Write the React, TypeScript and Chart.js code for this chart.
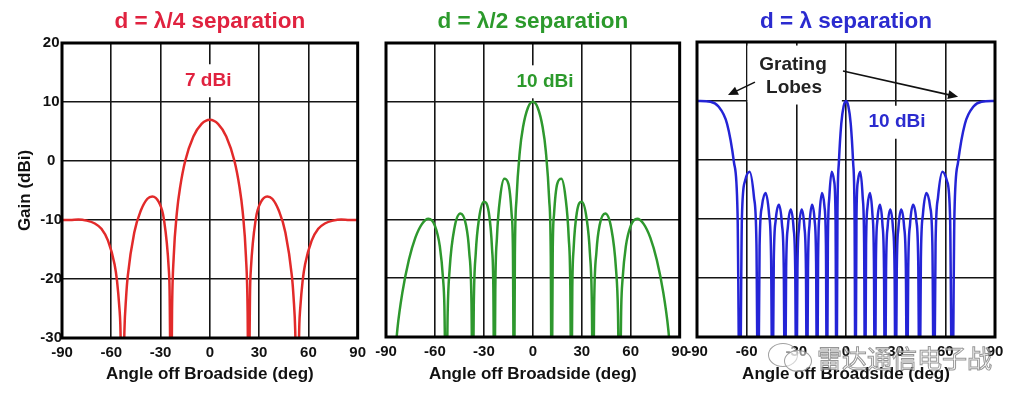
import React, { useEffect, useRef } from "react";
import { Chart, registerables } from "chart.js";

Chart.register(...registerables);

const FONT = '"Liberation Sans", Arial, Helvetica, sans-serif';

// ---- axis ticks ----
const xTickValues = [-90, -60, -30, 0, 30, 60, 90];
const yTickValues = [-30, -20, -10, 0, 10, 20];

// ---- d = λ/4 separation ----
const angles1 = [
  -90, -85, -80, -75, -70, -66, -62, -58, -56.5, -55, -54.5, -53.1, -52, -51, -50, -46, -42, -38, -35, -31,
  -28, -25, -24.5, -23.6, -23, -22, -20, -18, -15, -10, -5,
  0,
  5, 10, 15, 18, 20, 22, 23, 23.6, 24.5, 25, 28, 31, 35, 38, 42, 46, 50, 51, 52, 53.1, 54.5, 55, 56.5, 58,
  62, 66, 70, 75, 80, 85, 90,
];
const gain1 = [
  -10, -10, -9.9, -10.1, -10.6, -11.5, -13.5, -17.5, -20.3, -25.1, -27.6, -45, -28.8, -23.2, -19.6, -12.1, -8.4, -6.4, -6.0, -7.0,
  -9.8, -18.3, -21.9, -45, -25.4, -16.3, -8.6, -4.3, 0, 4.15, 6.3,
  7,
  6.3, 4.15, 0, -4.3, -8.6, -16.3, -25.4, -45, -21.9, -18.3, -9.8, -7.0, -6.0, -6.4, -8.4, -12.1, -19.6, -23.2, -28.8, -45, -27.6, -25.1, -20.3, -17.5,
  -13.5, -11.5, -10.6, -10.1, -9.9, -10, -10,
];

// ---- d = λ/2 separation ----
const angles2 = [
  -90, -86, -83, -80, -76, -72, -68, -64, -60, -57, -55, -54.2, -53.13, -52.2, -51, -48, -44.4, -41, -39, -37.6,
  -36.87, -36.2, -35, -33, -30, -27, -25, -24.2, -23.58, -23, -22, -20, -17.5, -15, -13, -12.2, -11.54, -11, -10, -8,
  -6, -3,
  0,
  3, 6, 8, 10, 11, 11.54, 12.2, 13, 15, 17.5, 20, 22, 23, 23.58, 24.2, 25, 27, 30, 33, 35,
  36.2, 36.87, 37.6, 39, 41, 44.4, 48, 51, 52.2, 53.13, 54.2, 55, 57, 60, 64, 68, 72, 76, 80, 83, 86, 90,
];
const gain2 = [
  -45, -38.5, -28.6, -22.5, -16.9, -13.1, -10.8, -9.9, -11.1, -14.6, -20.2, -24.8, -45, -25.9, -18.5, -11.4, -9.0, -10.9, -15.5, -24.3,
  -45, -24.7, -15.8, -9.9, -7.0, -8.8, -15, -21.7, -45, -22, -13.1, -6.2, -3.1, -3.9, -9.1, -15.3, -45, -16.2, -6.5, 1.5,
  5.7, 9.0,
  10,
  9.0, 5.7, 1.5, -6.5, -16.2, -45, -15.3, -9.1, -3.9, -3.1, -6.2, -13.1, -22, -45, -21.7, -15, -8.8, -7.0, -9.9, -15.8,
  -24.7, -45, -24.3, -15.5, -10.9, -9.0, -11.4, -18.5, -25.9, -45, -24.8, -20.2, -14.6, -11.1, -9.9, -10.8, -13.1, -16.9, -22.5, -28.6, -38.5, -45,
];

// ---- d = λ separation ----
const angles3 = [
  -90, -81.9, -77.16, -71.81, -67.67, -65.5,
  -64.16, -62.87, -61.04, -58.21, -55.59, -54.1,
  -53.13, -52.19, -50.81, -48.59, -46.47, -45.23,
  -44.43, -43.63, -42.45, -40.54, -38.68, -37.59,
  -36.87, -36.16, -35.1, -33.37, -31.67, -30.66,
  -30.0, -29.34, -28.36, -26.74, -25.15, -24.2,
  -23.58, -22.95, -22.02, -20.49, -18.97, -18.06,
  -17.46, -16.86, -15.96, -14.48, -13.0, -12.12,
  -11.54, -10.95, -10.08, -8.63, -7.18, -6.32,
  -5.74, -5.16, -4.3, -2.87, -1.43,
  0,
  1.43, 2.87, 4.3, 5.16, 5.74,
  6.32, 7.18, 8.63, 10.08, 10.95, 11.54,
  12.12, 13.0, 14.48, 15.96, 16.86, 17.46,
  18.06, 18.97, 20.49, 22.02, 22.95, 23.58,
  24.2, 25.15, 26.74, 28.36, 29.34, 30.0,
  30.66, 31.67, 33.37, 35.1, 36.16, 36.87,
  37.59, 38.68, 40.54, 42.45, 43.63, 44.43,
  45.23, 46.47, 48.59, 50.81, 52.19, 53.13,
  54.1, 55.59, 58.21, 61.04, 62.87, 64.16,
  65.5, 67.67, 71.81, 77.16, 81.9, 90,
];
const gain3 = [
  10, 9.86, 9.1, 6.1, -0.4, -9.1,
  -45, -9.7, -3.6, -2.0, -6.3, -14.1,
  -45, -14.5, -7.9, -5.6, -9.2, -16.8,
  -45, -17.2, -10.2, -7.6, -10.9, -18.3,
  -45, -18.4, -11.3, -8.4, -11.5, -18.7,
  -45, -18.7, -11.5, -8.4, -11.3, -18.4,
  -45, -18.3, -10.9, -7.6, -10.2, -17.2,
  -45, -16.8, -9.2, -5.6, -7.9, -14.5,
  -45, -14.1, -6.3, -2.0, -3.6, -9.7,
  -45, -9.1, -0.4, 6.1, 9.1,
  10,
  9.1, 6.1, -0.4, -9.1, -45,
  -9.7, -3.6, -2.0, -6.3, -14.1, -45,
  -14.5, -7.9, -5.6, -9.2, -16.8, -45,
  -17.2, -10.2, -7.6, -10.9, -18.3, -45,
  -18.4, -11.3, -8.4, -11.5, -18.7, -45,
  -18.7, -11.5, -8.4, -11.3, -18.4, -45,
  -18.3, -10.9, -7.6, -10.2, -17.2, -45,
  -16.8, -9.2, -5.6, -7.9, -14.5, -45,
  -14.1, -6.3, -2.0, -3.6, -9.7, -45,
  -9.1, -0.4, 6.1, 9.1, 9.86, 10,
];

// ---- colours ----
const RED_TEXT = "#e0223f";
const RED_LINE = "#e22a2a";
const GREEN_TEXT = "#2c9a2c";
const GREEN_LINE = "#2e982e";
const BLUE_TEXT = "#2b2bcf";
const BLUE_LINE = "#2424d6";

type Note = { text: string; x: number; y: number; color: string; size: number };
type Box = { x1: number; x2: number; y1: number; y2: number };
type Arrow = { fx: number; fy: number; tx: number; ty: number };

type PanelCfg = {
  canvasLeft: number;
  canvasWidth: number;
  areaLeft: number;
  padRight: number;
  titleTop: number;
  xAxisHeight: number;
  title: string;
  titleColor: string;
  lineColor: string;
  angles: number[];
  gains: number[];
  showY: boolean;
  notes: Note[];
  boxes: Box[];
  arrows: Arrow[];
};

const panels: PanelCfg[] = [
  {
    canvasLeft: 0,
    canvasWidth: 372,
    areaLeft: 62,
    padRight: 14,
    titleTop: 43,
    xAxisHeight: 66,
    title: "d = λ/4 separation",
    titleColor: RED_TEXT,
    lineColor: RED_LINE,
    angles: angles1,
    gains: gain1,
    showY: true,
    notes: [{ text: "7 dBi", x: -1, y: 13.6, color: RED_TEXT, size: 19 }],
    boxes: [],
    arrows: [],
  },
  {
    canvasLeft: 360,
    canvasWidth: 334,
    areaLeft: 26,
    padRight: 11,
    titleTop: 43,
    xAxisHeight: 67,
    title: "d = λ/2 separation",
    titleColor: GREEN_TEXT,
    lineColor: GREEN_LINE,
    angles: angles2,
    gains: gain2,
    showY: false,
    notes: [{ text: "10 dBi", x: 7.5, y: 13.4, color: GREEN_TEXT, size: 19 }],
    boxes: [],
    arrows: [],
  },
  {
    canvasLeft: 680,
    canvasWidth: 344,
    areaLeft: 17,
    padRight: 29,
    titleTop: 42,
    xAxisHeight: 67,
    title: "d = λ separation",
    titleColor: BLUE_TEXT,
    lineColor: BLUE_LINE,
    angles: angles3,
    gains: gain3,
    showY: false,
    notes: [
      { text: "10 dBi", x: 30.8, y: 6.4, color: BLUE_TEXT, size: 19 },
      { text: "Grating", x: -32, y: 16.1, color: "#222", size: 19 },
      { text: "Lobes", x: -31.4, y: 12.2, color: "#222", size: 19 },
    ],
    boxes: [{ x1: -59.5, x2: -2.5, y1: 19.4, y2: 9.8 }],
    arrows: [
      { fx: -55, fy: 13.2, tx: -71.3, ty: 11.0 },
      { fx: -1.8, fy: 15.1, tx: 67.7, ty: 10.7 },
    ],
  },
];

const TITLE_SIZE = 22.5;

function buildChart(canvas: HTMLCanvasElement, cfg: PanelCfg) {
  const deco = {
    id: "deco",
    beforeDatasetsDraw(chart: any) {
      const { ctx } = chart;
      const xs = chart.scales.x;
      const ys = chart.scales.y;
      ctx.save();
      ctx.fillStyle = "#ffffff";
      cfg.boxes.forEach((b) => {
        const x1 = xs.getPixelForValue(b.x1);
        const x2 = xs.getPixelForValue(b.x2);
        const y1 = ys.getPixelForValue(b.y1);
        const y2 = ys.getPixelForValue(b.y2);
        ctx.fillRect(Math.min(x1, x2), Math.min(y1, y2), Math.abs(x2 - x1), Math.abs(y2 - y1));
      });
      cfg.notes.forEach((n) => {
        ctx.font = `bold ${n.size}px ${FONT}`;
        const w = ctx.measureText(n.text).width;
        const cx = xs.getPixelForValue(n.x);
        const cy = ys.getPixelForValue(n.y);
        ctx.fillRect(cx - w / 2 - 5, cy - n.size / 2 - 7, w + 10, n.size + 14);
      });
      ctx.restore();
    },
    afterDatasetsDraw(chart: any) {
      const { ctx, chartArea } = chart;
      const xs = chart.scales.x;
      const ys = chart.scales.y;
      ctx.save();
      cfg.notes.forEach((n) => {
        ctx.font = `bold ${n.size}px ${FONT}`;
        ctx.fillStyle = n.color;
        ctx.textAlign = "center";
        ctx.textBaseline = "middle";
        ctx.fillText(n.text, xs.getPixelForValue(n.x), ys.getPixelForValue(n.y));
      });
      cfg.arrows.forEach((a) => {
        const fx = xs.getPixelForValue(a.fx);
        const fy = ys.getPixelForValue(a.fy);
        const tx = xs.getPixelForValue(a.tx);
        const ty = ys.getPixelForValue(a.ty);
        const ang = Math.atan2(ty - fy, tx - fx);
        const hl = 10;
        const hw = 4.5;
        ctx.strokeStyle = "#111";
        ctx.fillStyle = "#111";
        ctx.lineWidth = 1.6;
        ctx.beginPath();
        ctx.moveTo(fx, fy);
        ctx.lineTo(tx - Math.cos(ang) * hl * 0.8, ty - Math.sin(ang) * hl * 0.8);
        ctx.stroke();
        ctx.beginPath();
        ctx.moveTo(tx, ty);
        ctx.lineTo(tx - Math.cos(ang) * hl - Math.sin(ang) * hw, ty - Math.sin(ang) * hl + Math.cos(ang) * hw);
        ctx.lineTo(tx - Math.cos(ang) * hl + Math.sin(ang) * hw, ty - Math.sin(ang) * hl - Math.cos(ang) * hw);
        ctx.closePath();
        ctx.fill();
      });
      ctx.strokeStyle = "#000";
      ctx.lineWidth = 3;
      ctx.strokeRect(chartArea.left, chartArea.top, chartArea.right - chartArea.left, chartArea.bottom - chartArea.top);
      ctx.restore();
    },
  };

  const titlePadTop = 8.6;
  const titleLine = TITLE_SIZE * 1.2;

  return new Chart(canvas, {
    type: "line",
    data: {
      datasets: [
        {
          data: cfg.angles.map((a, i) => ({ x: a, y: cfg.gains[i] })),
          borderColor: cfg.lineColor,
          borderWidth: 2.5,
          pointRadius: 0,
          fill: false,
          cubicInterpolationMode: "monotone",
        },
      ],
    },
    options: {
      responsive: false,
      animation: false,
      events: [],
      layout: { padding: { left: 0, right: cfg.padRight, top: 0, bottom: 0 } },
      scales: {
        x: {
          type: "linear",
          min: -90,
          max: 90,
          afterBuildTicks: (s: any) => {
            s.ticks = xTickValues.map((v) => ({ value: v }));
          },
          afterFit: (s: any) => {
            s.height = cfg.xAxisHeight;
          },
          ticks: {
            autoSkip: false,
            maxRotation: 0,
            padding: 6,
            color: "#111",
            font: { family: FONT, size: 15, weight: "bold" },
          },
          grid: { color: "#151515", lineWidth: 1.6, drawTicks: false },
          border: { display: false },
          title: {
            display: true,
            text: "Angle off Broadside (deg)",
            color: "#111",
            font: { family: FONT, size: 17, weight: "bold" },
            padding: { top: 0, bottom: 19.8 },
          },
        },
        y: {
          type: "linear",
          min: -30,
          max: 20,
          afterBuildTicks: (s: any) => {
            s.ticks = yTickValues.map((v) => ({ value: v }));
          },
          afterFit: (s: any) => {
            s.width = cfg.areaLeft;
          },
          ticks: {
            display: cfg.showY,
            padding: 0,
            crossAlign: "center",
            color: "#111",
            font: { family: FONT, size: 15, weight: "bold" },
          },
          grid: { color: "#151515", lineWidth: 1.6, drawTicks: false },
          border: { display: false },
          title: {
            display: cfg.showY,
            text: "Gain (dBi)",
            color: "#111",
            font: { family: FONT, size: 17, weight: "bold" },
            padding: { top: 15.3, bottom: 0 },
          },
        },
      },
      plugins: {
        legend: { display: false },
        tooltip: { enabled: false },
        title: {
          display: true,
          text: cfg.title,
          color: cfg.titleColor,
          fullSize: false,
          font: { family: FONT, size: TITLE_SIZE, weight: "bold", lineHeight: 1.2 },
          padding: { top: titlePadTop, bottom: cfg.titleTop - titlePadTop - titleLine },
        },
      },
    } as any,
    plugins: [deco],
  });
}

function Panel({ cfg }: { cfg: PanelCfg }) {
  const ref = useRef<HTMLCanvasElement>(null);
  useEffect(() => {
    if (!ref.current) return;
    const chart = buildChart(ref.current, cfg);
    return () => chart.destroy();
  }, [cfg]);
  return (
    <canvas
      ref={ref}
      width={cfg.canvasWidth}
      height={404}
      style={{ position: "absolute", left: cfg.canvasLeft, top: 0, width: cfg.canvasWidth, height: 404 }}
    />
  );
}

export default function App() {
  return (
    <div
      style={{
        position: "absolute",
        left: 0,
        top: 0,
        width: 1024,
        height: 404,
        background: "#ffffff",
        overflow: "hidden",
      }}
    >
      {panels.map((p, i) => (
        <Panel key={i} cfg={p} />
      ))}
      <div
        style={{
          position: "absolute",
          left: 768,
          top: 343,
          width: 28,
          height: 22,
          borderRadius: "50%",
          border: "1.5px solid rgba(120,120,120,0.7)",
          background: "rgba(255,255,255,0.55)",
        }}
      />
      <div
        style={{
          position: "absolute",
          left: 784,
          top: 350,
          width: 26,
          height: 20,
          borderRadius: "50%",
          border: "1.5px solid rgba(120,120,120,0.7)",
          background: "rgba(255,255,255,0.55)",
        }}
      />
      <div
        style={{
          position: "absolute",
          left: 817,
          top: 342,
          fontFamily: '"Noto Sans CJK SC", sans-serif',
          fontSize: 25,
          lineHeight: "30px",
          color: "rgba(255,255,255,0.6)",
          WebkitTextStroke: "1px rgba(115,115,115,0.75)",
          whiteSpace: "nowrap",
        }}
      >
        雷达通信电子战
      </div>
    </div>
  );
}
